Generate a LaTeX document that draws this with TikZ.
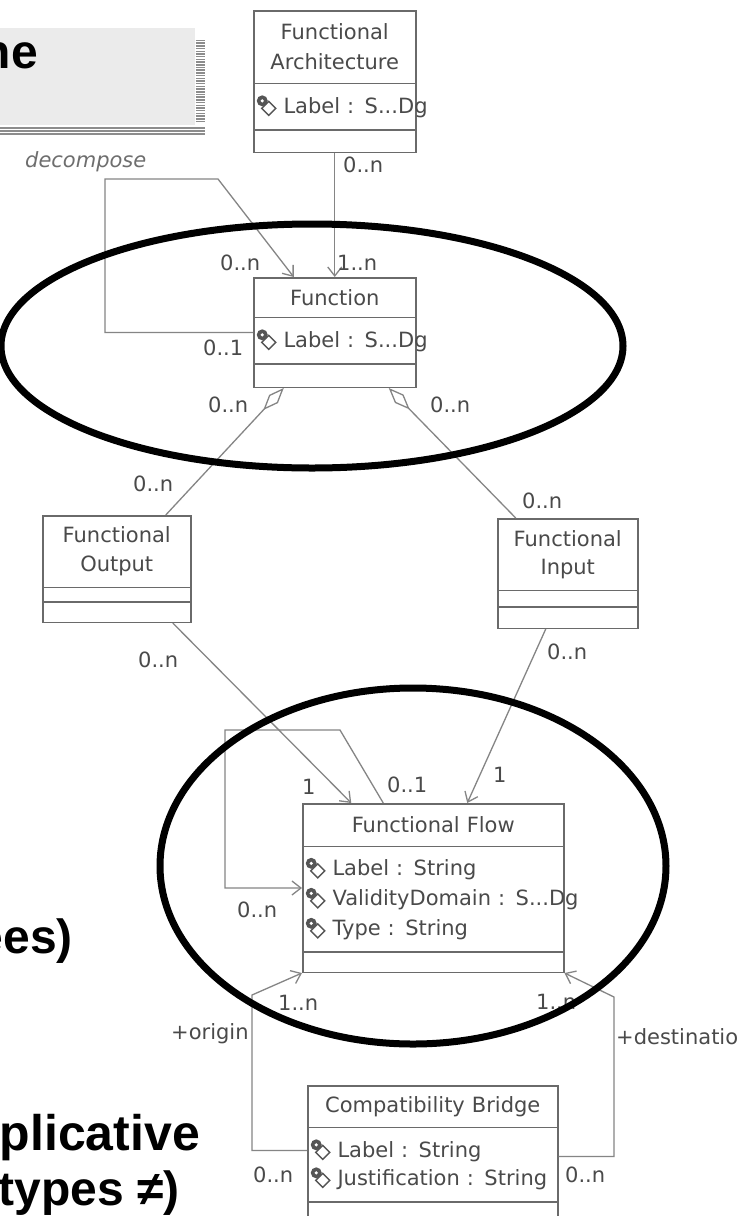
\documentclass[tikz,border=0pt]{standalone}
\usepackage{fontspec}
\usepackage{tikz}
\usetikzlibrary{arrows.meta, shapes.multipart}

\newfontfamily\umlfont{DejaVu Sans}
\newfontfamily\slidefont{Liberation Sans}

\definecolor{boxgray}{HTML}{6A6A6A}
\definecolor{linegray}{HTML}{858585}
\definecolor{textgray}{HTML}{4A4A4A}
\definecolor{decgray}{HTML}{6E6E6E}
\definecolor{icongray}{HTML}{555555}
\definecolor{titlegray}{HTML}{EBEBEB}
\definecolor{stripegray}{HTML}{8C8C8C}

% compartments of a class box: height, then contents
\newcommand{\namecomp}[2]{\parbox[c][#1][c]{\linewidth}{\centering #2}}
\newcommand{\attrcomp}[2]{\parbox[c][#1][c]{\linewidth}{#2}}

% the little attribute icon in front of each attribute
\newcommand{\attricon}{%
  \tikz[x=1pt, y=1pt, baseline=0pt, line width=1.5pt]{%
    \draw[icongray, fill=white] (6,5) -- (13,12) -- (20,5) -- (13,-2) -- cycle;
    \fill[icongray] (6.5,12.5) circle (5.5);
    \fill[white] (6.5,12.5) circle (1.8);
  }}
\newcommand{\attr}[1]{\makebox[\linewidth][l]{\hspace*{3pt}\attricon\hspace{7pt}%
  \color{textgray}#1}}

\begin{document}
\begin{tikzpicture}[x=1pt, y=-1pt,
  umlclass/.style={rectangle split, rectangle split parts=3, draw=boxgray,
    line width=1.5pt, fill=white, inner sep=0pt, text width=#1,
    text=textgray, font=\umlfont\fontsize{21}{30}\selectfont, anchor=north west},
  %
  mult/.style={inner sep=0pt, anchor=west, text=textgray,
    font=\umlfont\fontsize{21}{25}\selectfont},
  %
  assoc/.style={draw=linegray, line width=1.3pt,
    -{Straight Barb[length=9pt, width=14pt]}},
  %
  aggr/.style={draw=linegray, line width=1.3pt,
    {Diamond[open, length=30pt, width=12pt]}-},
  %
  slide/.style={inner sep=0pt, text=black, anchor=base east,
    font=\slidefont\bfseries\fontsize{48}{55}\selectfont},
  %
  stripe/.style={draw=stripegray, line width=1.5pt},
  %
  ring/.style={draw=black, line width=7pt}
  ]

  \useasboundingbox (0,0) rectangle (738,1216);
  \fill[white] (0,0) rectangle (738,1216);
  \clip (0,0) rectangle (738,1216);

  % slide title box and its striped shadow
  \fill[titlegray] (0,28) rectangle (195,125);
  \foreach \y in {40.5,43.2,...,124} \draw[stripe] (195.5,\y) -- (205,\y);
  \foreach \y in {128,131,134} \draw[stripe] (0,\y) -- (205,\y);

  \node[slide] (tNe) at (38,68) {ne};
  \node[slide] (tEes) at (73,953) {ees)};
  \node[slide, font=\slidefont\bfseries\fontsize{50}{56}\selectfont]
    (tPlic) at (200,1150) {plicative};
  \node[slide] (tTypes) at (180,1205) {types ≠)};

  \begin{scope}
    \node[umlclass=162pt] (arch) at (253,10)
      {\namecomp{71pt}{Functional\\Architecture}%
       \nodepart{two}\attrcomp{45pt}{\attr{Label : S...Dg}}%
       \nodepart{three}\namecomp{21pt}{}};
    \node[umlclass=162pt] (function) at (253,277)
      {\namecomp{38pt}{Function}%
       \nodepart{two}\attrcomp{45pt}{\attr{Label : S...Dg}}%
       \nodepart{three}\namecomp{22pt}{}};
    \node[umlclass=148pt] (output) at (42,515)
      {\namecomp{70pt}{Functional\\[-1pt]Output}%
       \nodepart{two}\namecomp{13pt}{}%
       \nodepart{three}\namecomp{19pt}{}};
    \node[umlclass=140pt] (input) at (497,518)
      {\namecomp{70pt}{Functional\\[-2pt]Input}%
       \nodepart{two}\namecomp{15pt}{}%
       \nodepart{three}\namecomp{20pt}{}};
    \node[umlclass=261pt] (flow) at (302,803)
      {\namecomp{41pt}{Functional Flow}%
       \nodepart{two}\attrcomp{104pt}{\attr{Label : String}\\
         \attr{ValidityDomain : S...Dg}\\
         \attr{Type : String}}%
       \nodepart{three}\namecomp{19pt}{}};
    \node[umlclass=250pt] (bridge) at (307,1085)
      {\namecomp{40pt}{Compatibility Bridge}%
       \nodepart{two}\attrcomp{73pt}{\attr{Label : String}\\[-2pt]
         \attr{Justification : String}}%
       \nodepart{three}\namecomp{32pt}{}};
  \end{scope}

  \coordinate (dec1) at (105,179);
  \coordinate (dec2) at (218,179);
  \coordinate (ffl1) at (340,730);
  \coordinate (ffl2) at (225,730);
  \coordinate (orig) at (252,995);
  \coordinate (dest) at (614,997);

  \begin{scope}
    \draw[assoc] (arch.south) -- (function.north);
    \draw[assoc] (function.west) -| (dec1) -- (dec2)
      -- ([xshift=-41pt]function.north);
    \draw[aggr] ([xshift=-51pt]function.south) -- ([xshift=49pt]output.north);
    \draw[aggr] ([xshift=54pt]function.south) -- ([xshift=-52pt]input.north);
    \draw[assoc] ([xshift=56pt]output.south) -- ([xshift=-82pt]flow.north);
    \draw[assoc] ([xshift=-22pt]input.south) -- ([xshift=34pt]flow.north);
    \draw[assoc] ([xshift=-50pt]flow.north) -- (ffl1) -- (ffl2) |- (flow.west);
    \draw[assoc] ([yshift=10pt]bridge.west) -| (orig) -- (flow.south west);
    \draw[assoc] ([yshift=4pt]bridge.east) -| (dest) -- (flow.south east);
  \end{scope}

  % multiplicities and role names
  \node[mult] (mArchA) at (343,165) {0..n};
  \node[mult] (mArchB) at (337,263) {1..n};
  \node[mult] (mDecA) at (220,263) {0..n};
  \node[mult] (mDecB) at (203,348) {0..1};
  \node[mult, text=decgray, font=\umlfont\itshape\fontsize{21}{25}\selectfont]
    (lDec) at (25,162) {decompose};
  \node[mult] (mOutA) at (208,405) {0..n};
  \node[mult] (mOutB) at (133,484) {0..n};
  \node[mult] (mInA) at (430,405) {0..n};
  \node[mult] (mInB) at (522,501) {0..n};
  \node[mult] (mOutC) at (138,660) {0..n};
  \node[mult] (mInC) at (547,652) {0..n};
  \node[mult] (mOutD) at (302,787) {1};
  \node[mult] (mFlowA) at (387,785) {0..1};
  \node[mult] (mInD) at (493,775) {1};
  \node[mult] (mFlowB) at (237,910) {0..n};
  \node[mult] (mOrigA) at (278,1003) {1..n};
  \node[mult] (lOrig) at (171,1034) {+origin};
  \node[mult] (mDestA) at (536,1002) {1..n};
  \node[mult] (lDest) at (616,1037) {+destinatio};
  \node[mult] (mOrigB) at (253,1175) {0..n};
  \node[mult] (mDestB) at (565,1175) {0..n};

  % the two hand-drawn rings
  \draw[ring] (312,346) ellipse [x radius=311pt, y radius=122pt];
  \draw[ring] (413,866) ellipse [x radius=253pt, y radius=178pt];

\end{tikzpicture}
\end{document}
